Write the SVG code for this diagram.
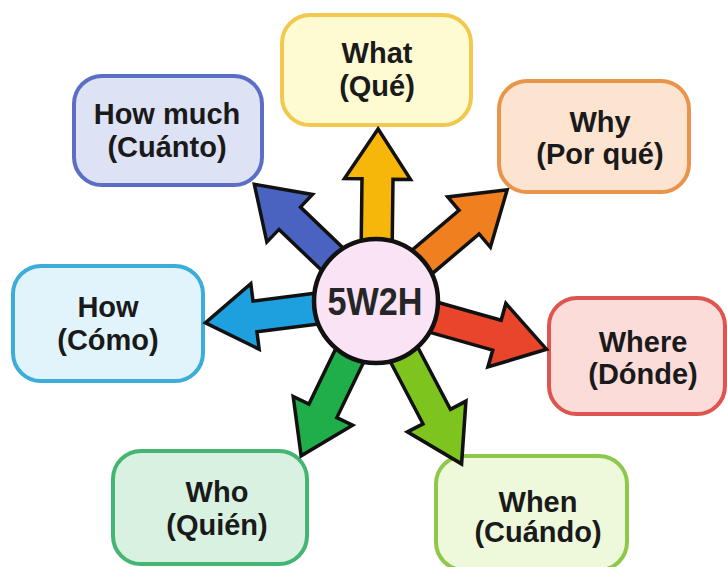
<svg xmlns="http://www.w3.org/2000/svg" width="727" height="567" viewBox="0 0 727 567">
  <defs>
    <style>
      .box { stroke-width: 4; }
      .lbl { font-family: "Liberation Sans", Arial, sans-serif; font-weight: bold; font-size: 29px; fill: #1a1a1a; text-anchor: middle; }
      .arrow { stroke: #111; stroke-width: 3.5; stroke-linejoin: miter; }
      .hub { fill: #f9e3f5; stroke: #111; stroke-width: 4.5; }
      .hubtxt { font-family: "Liberation Sans", Arial, sans-serif; font-weight: bold; font-size: 38px; fill: #262626; text-anchor: middle; }
    </style>
    <!-- block arrow pointing up from the hub centre; L = 172 -->
    <path id="arr" d="M-15.5,-40 L-15.5,-122 L-33,-122 L0,-172 L33,-122 L15.5,-122 L15.5,-40 Z"/>
  </defs>
  <rect width="727" height="567" fill="#ffffff"/>

  <g id="what">
    <rect class="box" x="282" y="15" width="189" height="110" rx="28" fill="#fefbd2" stroke="#f2c94c"/>
    <text class="lbl" x="377" y="63">What</text>
    <text class="lbl" x="377" y="96">(Qué)</text>
  </g>
  <g id="how-much">
    <rect class="box" x="74" y="76" width="188" height="109" rx="28" fill="#dde2f5" stroke="#5b6dc4"/>
    <text class="lbl" x="167" y="124">How much</text>
    <text class="lbl" x="167" y="157">(Cuánto)</text>
  </g>
  <g id="why">
    <rect class="box" x="499" y="81" width="190" height="111" rx="28" fill="#fde4d0" stroke="#e8944a"/>
    <text class="lbl" x="600" y="132">Why</text>
    <text class="lbl" x="600" y="164">(Por qué)</text>
  </g>
  <g id="how">
    <rect class="box" x="13" y="266" width="190" height="115" rx="28" fill="#e2f4fb" stroke="#3badd8"/>
    <text class="lbl" x="108" y="317">How</text>
    <text class="lbl" x="108" y="350">(Cómo)</text>
  </g>
  <g id="where">
    <rect class="box" x="549" y="298" width="176" height="116" rx="28" fill="#fbdcd9" stroke="#dc5550"/>
    <text class="lbl" x="643" y="352">Where</text>
    <text class="lbl" x="643" y="384">(Dónde)</text>
  </g>
  <g id="who">
    <rect class="box" x="113" y="451" width="194" height="113" rx="28" fill="#d8f1e1" stroke="#45b572"/>
    <text class="lbl" x="217" y="502">Who</text>
    <text class="lbl" x="217" y="535">(Quién)</text>
  </g>
  <g id="when">
    <rect class="box" x="436" y="456" width="191" height="114" rx="28" fill="#eef9dc" stroke="#8dc84a"/>
    <text class="lbl" x="538" y="512">When</text>
    <text class="lbl" x="538" y="542">(Cuándo)</text>
  </g>

  <g id="connectors">
    <use href="#arr" class="arrow" fill="#f6b70a" transform="translate(376,301) rotate(0.7)"/>
    <use href="#arr" class="arrow" fill="#f07f1f" transform="translate(376,301) rotate(49.7)"/>
    <use href="#arr" class="arrow" fill="#e8452a" transform="translate(376,301) rotate(105.8) scale(1,1.03)"/>
    <use href="#arr" class="arrow" fill="#7dc51e" transform="translate(376,301) rotate(152.3) scale(1,1.07)"/>
    <use href="#arr" class="arrow" fill="#1fae4a" transform="translate(376,301) rotate(205.8)"/>
    <use href="#arr" class="arrow" fill="#1ea0de" transform="translate(376,301) rotate(262.7)"/>
    <use href="#arr" class="arrow" fill="#4a63c0" transform="translate(376,301) rotate(313.8) scale(1,0.98)"/>
  </g>

  <g id="hub">
    <circle class="hub" cx="376" cy="301" r="62"/>
    <text class="hubtxt" transform="translate(375,315) scale(0.9,1)">5W2H</text>
  </g>
</svg>
